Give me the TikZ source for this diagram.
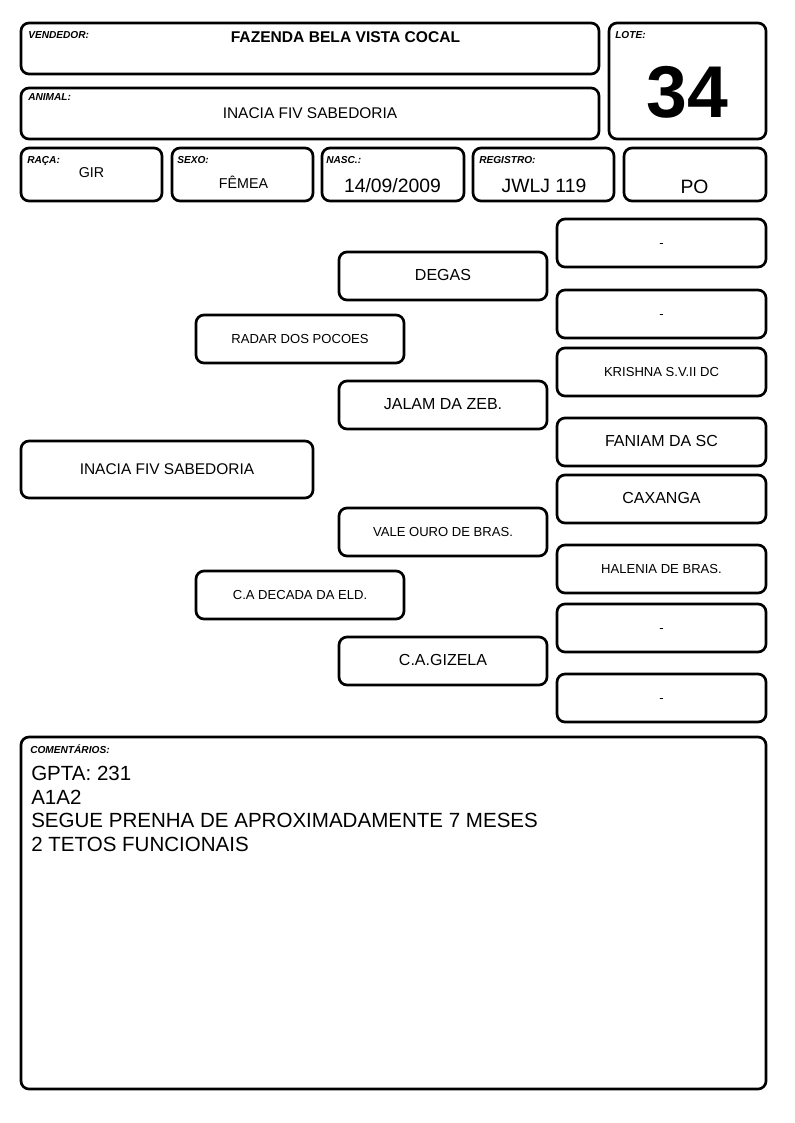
\documentclass[tikz,border=0pt]{standalone}
\usepackage{fontspec}
\setmainfont{Liberation Sans}

\tikzset{
  card/.style={draw, line width=2pt, rounded corners=6pt, inner sep=0pt},
  pedcard/.style={card, text height=0.716em, text depth=0pt},
  tag/.style={anchor=base west, inner sep=0pt, font=\fontsize{7.6}{9}\selectfont\bfseries\itshape},
  entry/.style={anchor=base, inner sep=0pt},
}

\begin{document}
\begin{tikzpicture}[x=0.75pt, y=-0.75pt]
  \useasboundingbox (0,0) rectangle (794,1123);

  % header
  \node[card, minimum width=433.5pt, minimum height=38.25pt] (vend) at (310,48.5) {};
  \node[tag] (vendtag) at (28,39) {VENDEDOR:};
  \node[entry, font=\fontsize{11.7}{14}\selectfont\bfseries] (vendname) at (345.5,43) {FAZENDA BELA VISTA COCAL};

  \node[card, minimum width=433.5pt, minimum height=38.25pt] (anim) at (310,113.5) {};
  \node[tag] (animtag) at (28,101) {ANIMAL:};
  \node[entry, font=\fontsize{11.6}{14}\selectfont] (animname) at (310,119) {INACIA FIV SABEDORIA};

  \node[card, minimum width=117.75pt, minimum height=87pt] (lote) at (687.5,81) {};
  \node[tag] (lotetag) at (615,39) {LOTE:};
  \node[entry, font=\fontsize{55}{60}\selectfont\bfseries] (lotenum) at (687.5,118) {34};

  \foreach \nm/\xa/\xb/\lbl/\lx/\val/\vx/\vy/\fs in {
      raca/21/162/RAÇA:/27/GIR/91.5/178/10.7,
      sexo/172/313/SEXO:/177/FÊMEA/243.5/189/10.7,
      nasc/322/464/NASC.:/326/{14/09/2009}/392.5/193/14.5,
      reg/473/614/REGISTRO:/479/JWLJ 119/544/193/14.5,
      tipo/624/766//630/PO/694.5/194/14.5}
  {
    \node[card, minimum width={(\xb-\xa)*0.75pt}, minimum height=39.75pt] (\nm) at ({(\xa+\xb)/2},174.5) {};
    \node[tag] (\nm tag) at (\lx,164) {\lbl};
    \node[entry, font=\fontsize{\fs}{16}\selectfont] (\nm val) at (\vx,\vy) {\val};
  }

  % pedigree
  \node[pedcard, minimum width=219pt, minimum height=42.75pt, font=\fontsize{11.6}{14}\selectfont] (self) at (167,469.5) {INACIA FIV SABEDORIA};
  \node[pedcard, minimum width=156pt, minimum height=36pt, font=\fontsize{9.8}{12}\selectfont] (sire) at (300,339) {RADAR DOS POCOES};
  \node[pedcard, minimum width=156pt, minimum height=36pt, font=\fontsize{9.8}{12}\selectfont] (dam) at (300,595) {C.A DECADA DA ELD.};

  \foreach \nm/\ya/\txt/\fs in {
      ss/252/DEGAS/12, sd/381/JALAM DA ZEB./12,
      ds/508/VALE OURO DE BRAS./9.8, dd/637/C.A.GIZELA/12}
    \node[pedcard, minimum width=156pt, minimum height=36pt, font=\fontsize{\fs}{14}\selectfont] (\nm) at (443,\ya+24) {\txt};

  \foreach \nm/\ya/\txt/\fs in {
      sss/219/-/9.8, ssd/290/-/9.8, sds/348/KRISHNA S.V.II DC/9.8, sdd/418/FANIAM DA SC/12,
      dss/475/CAXANGA/12, dsd/545/HALENIA DE BRAS./9.8, dds/604/-/9.8, ddd/674/-/9.8}
    \node[pedcard, minimum width=156.75pt, minimum height=36pt, font=\fontsize{\fs}{14}\selectfont] (\nm) at (661.5,\ya+24) {\txt};

  % comments
  \node[card, minimum width=558.75pt, minimum height=264pt] (notes) at (393.5,913) {};
  \node[tag] (notestag) at (30,753) {COMENTÁRIOS:};
  \node[anchor=north west, align=left, inner sep=0pt, font=\fontsize{15.4}{17.6}\selectfont] (notestext) at (31,766.3)
    {GPTA: 231\\A1A2\\SEGUE PRENHA DE APROXIMADAMENTE 7 MESES\\2 TETOS FUNCIONAIS};
\end{tikzpicture}
\end{document}
